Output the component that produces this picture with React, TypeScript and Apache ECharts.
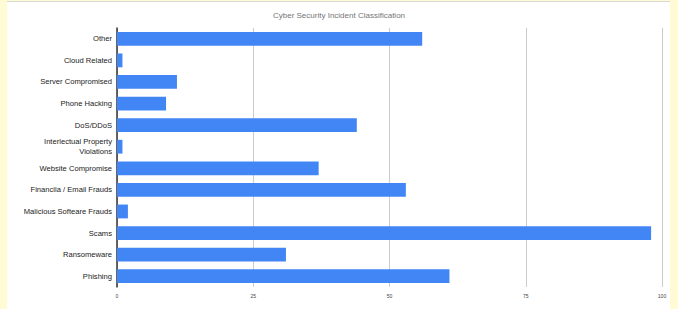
import React, { useEffect, useRef } from "react";
import * as echarts from "echarts";

const categories = [
  "Other",
  "Cloud Related",
  "Server Compromised",
  "Phone Hacking",
  "DoS/DDoS",
  "Interlectual Property\nViolations",
  "Website Compromise",
  "Financila / Email Frauds",
  "Malicious Softeare Frauds",
  "Scams",
  "Ransomeware",
  "Phishing",
];
const values = [56, 1, 11, 9, 44, 1, 37, 53, 2, 98, 31, 61];
const titleText = "Cyber Security Incident Classification";

export default function App() {
  const ref = useRef<HTMLDivElement>(null);
  useEffect(() => {
    if (!ref.current) return;
    const chart = echarts.init(ref.current, null, { renderer: "svg" });
    chart.setOption({
      animation: false,
      backgroundColor: "transparent",
      title: {
        text: titleText,
        left: "center",
        top: 6,
        textStyle: { fontSize: 8, fontWeight: "normal", color: "#757575", fontFamily: "Liberation Sans, Arial" },
      },
      grid: { left: 117, right: 16, top: 28, bottom: 22 },
      xAxis: {
        type: "value",
        min: 0,
        max: 100,
        interval: 25,
        axisLine: { show: false },
        axisTick: { show: false },
        splitLine: { lineStyle: { color: "#cccccc", width: 1 } },
        axisLabel: { fontSize: 5, color: "#444", margin: 6, fontFamily: "Liberation Sans, Arial" },
      },
      yAxis: {
        type: "category",
        data: categories,
        inverse: true,
        axisLine: { show: true, lineStyle: { color: "#333", width: 1.5 } },
        axisTick: { show: false },
        axisLabel: { fontSize: 7.6, color: "#222", margin: 5, lineHeight: 10, fontFamily: "Liberation Sans, Arial" },
      },
      series: [
        {
          type: "bar",
          data: values,
          barCategoryGap: "36%",
          itemStyle: { color: "#4285f4" },
        },
      ],
    });
    return () => chart.dispose();
  }, []);
  return (
    <div style={{ position: "fixed", left: 0, top: 0, width: 678, height: 309, background: "#fffbd5" }}>
      <div style={{ position: "absolute", left: 7, top: 1, width: 663, height: 308, background: "#fff", borderTop: "1px solid #d8d8d8", boxSizing: "border-box" }} />
      <div ref={ref} style={{ position: "absolute", left: 0, top: 0, width: 678, height: 309 }} />
    </div>
  );
}
